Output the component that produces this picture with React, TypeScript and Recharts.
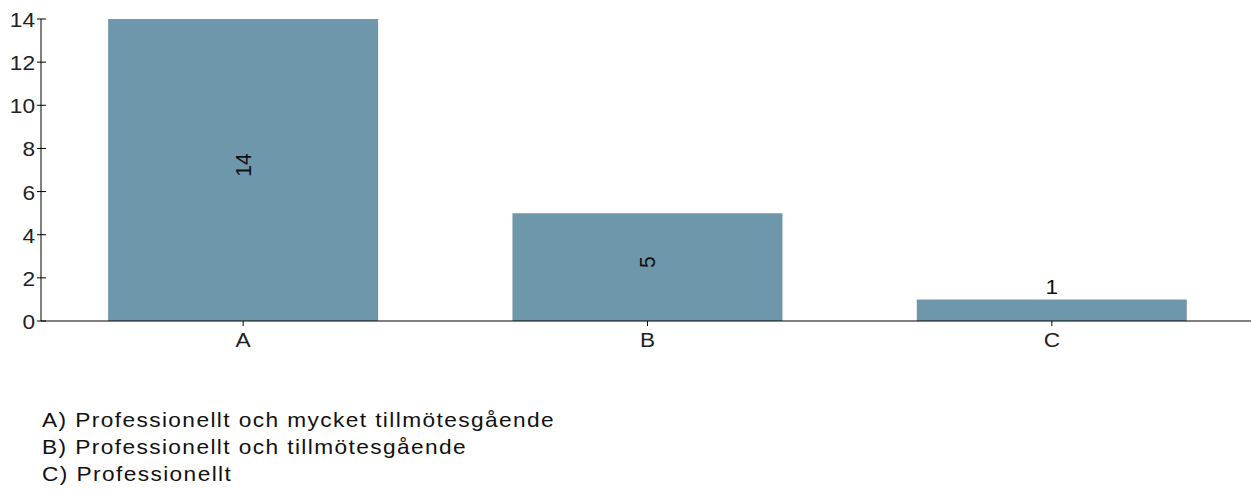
import { BarChart, Bar, XAxis, YAxis, LabelList } from "recharts";

const categories = ["A", "B", "C"];
const counts = [14, 5, 1];
const yTicks = [0, 2, 4, 6, 8, 10, 12, 14];
const legendLines = [
  "A) Professionellt och mycket tillmötesgående",
  "B) Professionellt och tillmötesgående",
  "C) Professionellt",
];

const data = categories.map((name, i) => ({ name, value: counts[i] }));

const FONT = "'Liberation Sans', Arial, sans-serif";
const FS = 21;
const SX = 1.08; // text in the original looks a little stretched sideways

// y ticks cross the axis line on both sides
const YTick = (props: any) => {
  const { x, y, payload } = props;
  return (
    <g>
      <line x1={x + 6} x2={x + 11} y1={y} y2={y} stroke="#000" strokeWidth={1} />
      <text
        transform={`translate(${x}, ${y}) scale(${SX}, 1)`}
        dy={8}
        textAnchor="end"
        fontSize={FS}
        fill="#222"
        fontFamily={FONT}
      >
        {payload.value}
      </text>
    </g>
  );
};

const XTick = (props: any) => {
  const { x, y, payload } = props;
  return (
    <text
      transform={`translate(${x}, ${y}) scale(${SX}, 1)`}
      dy={17}
      textAnchor="middle"
      fontSize={FS}
      fill="#222"
      fontFamily={FONT}
    >
      {payload.value}
    </text>
  );
};

const ValueLabel = (props: any) => {
  const { x, y, width, height, value } = props;
  const cx = x + width / 2;
  if (height > 40) {
    const cy = y + height / 2 - 5;
    return (
      <text
        transform={`translate(${cx}, ${cy}) scale(${SX}, 1) rotate(-90)`}
        textAnchor="middle"
        dominantBaseline="central"
        fontSize={FS}
        fill="#111"
        fontFamily={FONT}
      >
        {value}
      </text>
    );
  }
  return (
    <text
      transform={`translate(${cx}, ${y - 5}) scale(${SX}, 1)`}
      textAnchor="middle"
      fontSize={FS}
      fill="#111"
      fontFamily={FONT}
    >
      {value}
    </text>
  );
};

export default function App() {
  return (
    <div
      style={{
        position: "absolute",
        left: 0,
        top: 0,
        width: 1251,
        height: 490,
        background: "#fff",
        fontFamily: FONT,
        overflow: "hidden",
      }}
    >
      <BarChart
        width={1254}
        height={360}
        data={data}
        margin={{ top: 19, right: 0, bottom: 9, left: 0 }}
        barCategoryGap="16.6%"
      >
        <XAxis
          dataKey="name"
          stroke="#000"
          tickSize={5}
          height={30}
          tickMargin={4}
          tick={<XTick />}
        />
        <YAxis
          domain={[0, 14]}
          ticks={yTicks}
          width={41}
          stroke="#000"
          tickSize={4}
          tickMargin={2}
          tick={<YTick />}
        />
        <Bar dataKey="value" fill="#6e97ab" isAnimationActive={false}>
          <LabelList dataKey="value" content={<ValueLabel />} />
        </Bar>
      </BarChart>
      <div
        style={{
          position: "absolute",
          left: 42,
          top: 406,
          fontSize: FS,
          lineHeight: "27px",
          letterSpacing: "1.3px",
          color: "#111",
          whiteSpace: "nowrap",
          transform: `scaleX(${SX})`,
          transformOrigin: "0 0",
        }}
      >
        {legendLines.map((l) => (
          <div key={l}>{l}</div>
        ))}
      </div>
    </div>
  );
}
